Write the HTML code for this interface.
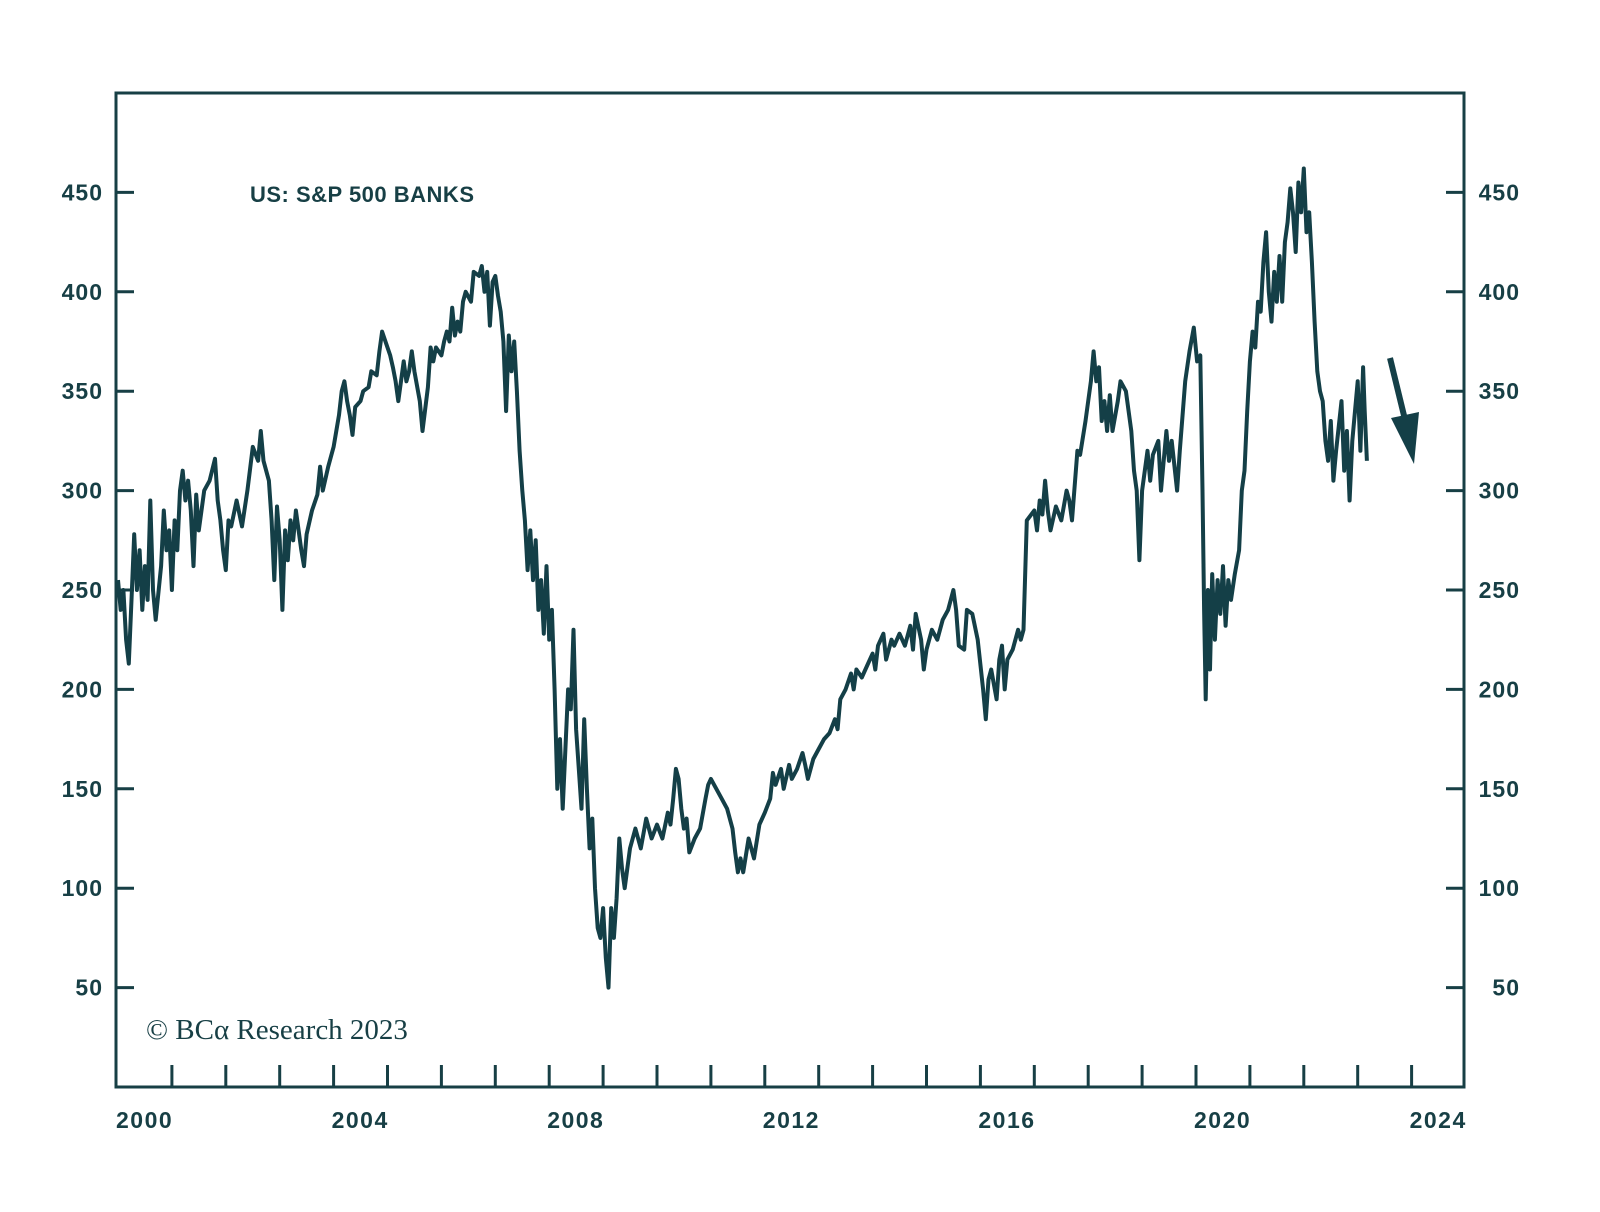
<!DOCTYPE html>
<html><head><meta charset="utf-8"><style>
html,body{margin:0;padding:0;background:#fff;}
svg{display:block;}
text{font-family:"Liberation Sans",sans-serif;fill:#173f45;}
</style></head><body>
<svg id="chart" width="1600" height="1212" viewBox="0 0 1600 1212">
<rect x="116" y="93" width="1348" height="994" fill="none" stroke="#173f45" stroke-width="3"/>
<g id="axes"></g>
<text x="250" y="202" font-size="22" font-weight="bold" letter-spacing="0.5">US: S&amp;P 500 BANKS</text>
<text x="146" y="1039" font-size="29" style="font-family:'Liberation Serif',serif">© BCα Research 2023</text>
<path id="series" fill="none" stroke="#143f47" stroke-width="4" stroke-linejoin="round"/>
<g>
<line x1="1390" y1="358" x2="1408" y2="432" stroke="#143f47" stroke-width="6"/>
<polygon points="1391,418 1419,412 1414,464" fill="#143f47"/>
</g>
</svg>
<script>
const dates=[2000.0,2000.05,2000.1,2000.15,2000.2,2000.25,2000.3,2000.35,2000.4,2000.45,2000.5,2000.55,2000.6,2000.65,2000.7,2000.8,2000.85,2000.9,2000.95,2001.0,2001.05,2001.1,2001.15,2001.2,2001.25,2001.3,2001.35,2001.4,2001.45,2001.5,2001.6,2001.7,2001.8,2001.85,2001.9,2001.95,2002.0,2002.05,2002.1,2002.2,2002.3,2002.4,2002.5,2002.6,2002.65,2002.7,2002.8,2002.85,2002.9,2002.95,2003.0,2003.05,2003.1,2003.15,2003.2,2003.25,2003.3,2003.4,2003.45,2003.5,2003.6,2003.7,2003.75,2003.8,2003.9,2004.0,2004.05,2004.1,2004.15,2004.2,2004.25,2004.3,2004.35,2004.4,2004.5,2004.55,2004.65,2004.7,2004.8,2004.85,2004.9,2005.0,2005.05,2005.1,2005.15,2005.2,2005.3,2005.35,2005.4,2005.45,2005.5,2005.6,2005.65,2005.75,2005.8,2005.85,2005.9,2006.0,2006.05,2006.1,2006.15,2006.2,2006.25,2006.3,2006.35,2006.4,2006.45,2006.55,2006.6,2006.7,2006.75,2006.8,2006.85,2006.9,2006.95,2007.0,2007.05,2007.1,2007.15,2007.2,2007.25,2007.3,2007.35,2007.4,2007.45,2007.5,2007.55,2007.6,2007.65,2007.7,2007.75,2007.8,2007.85,2007.9,2007.95,2008.0,2008.05,2008.1,2008.15,2008.2,2008.25,2008.3,2008.35,2008.4,2008.45,2008.5,2008.55,2008.6,2008.65,2008.7,2008.75,2008.8,2008.85,2008.9,2008.95,2009.0,2009.05,2009.1,2009.15,2009.2,2009.25,2009.3,2009.35,2009.4,2009.5,2009.6,2009.7,2009.8,2009.9,2010.0,2010.1,2010.2,2010.25,2010.3,2010.35,2010.4,2010.45,2010.5,2010.55,2010.6,2010.7,2010.8,2010.9,2010.95,2011.0,2011.1,2011.2,2011.3,2011.4,2011.45,2011.5,2011.55,2011.6,2011.7,2011.8,2011.9,2012.0,2012.1,2012.15,2012.2,2012.3,2012.35,2012.45,2012.5,2012.6,2012.7,2012.75,2012.8,2012.9,2013.0,2013.1,2013.2,2013.3,2013.35,2013.4,2013.5,2013.6,2013.65,2013.7,2013.8,2013.9,2014.0,2014.05,2014.1,2014.2,2014.25,2014.35,2014.4,2014.5,2014.6,2014.7,2014.75,2014.8,2014.9,2014.95,2015.0,2015.1,2015.2,2015.3,2015.4,2015.5,2015.55,2015.6,2015.7,2015.75,2015.85,2015.95,2016.05,2016.1,2016.15,2016.2,2016.3,2016.35,2016.4,2016.45,2016.5,2016.6,2016.7,2016.75,2016.8,2016.86,2017.0,2017.05,2017.1,2017.15,2017.2,2017.25,2017.3,2017.4,2017.5,2017.6,2017.65,2017.7,2017.8,2017.85,2017.95,2018.0,2018.05,2018.1,2018.15,2018.2,2018.25,2018.3,2018.35,2018.4,2018.45,2018.55,2018.6,2018.7,2018.8,2018.85,2018.9,2018.95,2019.0,2019.05,2019.1,2019.15,2019.2,2019.3,2019.35,2019.45,2019.5,2019.55,2019.65,2019.7,2019.8,2019.88,2019.96,2020.02,2020.08,2020.12,2020.15,2020.18,2020.22,2020.26,2020.3,2020.35,2020.4,2020.45,2020.5,2020.55,2020.6,2020.65,2020.72,2020.8,2020.85,2020.9,2020.95,2021.0,2021.05,2021.1,2021.15,2021.2,2021.25,2021.3,2021.35,2021.4,2021.45,2021.5,2021.55,2021.6,2021.65,2021.7,2021.75,2021.8,2021.85,2021.9,2021.95,2022.0,2022.05,2022.1,2022.15,2022.2,2022.25,2022.3,2022.35,2022.4,2022.45,2022.5,2022.55,2022.6,2022.7,2022.75,2022.8,2022.85,2022.9,2022.95,2023.0,2023.05,2023.1,2023.13,2023.17];
const values=[255,240,250,225,213,245,278,250,270,240,262,245,295,250,235,262,290,270,280,250,285,270,300,310,295,305,290,262,298,280,300,305,316,295,285,270,260,285,282,295,282,300,322,315,330,315,305,285,255,292,275,240,280,265,285,275,290,270,262,278,290,298,312,300,312,322,330,338,350,355,345,338,328,342,345,350,352,360,358,370,380,372,368,362,355,345,365,355,360,370,360,345,330,352,372,365,372,368,375,380,375,392,378,385,380,395,400,395,410,408,413,400,410,383,405,408,398,390,375,340,378,360,375,350,320,300,285,260,280,255,275,240,255,228,262,225,240,200,150,175,140,170,200,190,230,180,160,140,185,150,120,135,100,80,75,90,65,50,90,75,95,125,110,100,120,130,120,135,125,132,125,138,132,145,160,155,140,130,135,118,125,130,145,152,155,150,145,140,130,118,108,115,108,125,115,132,138,145,158,152,160,150,162,155,160,168,162,155,165,170,175,178,185,180,195,200,208,200,210,206,212,218,210,222,228,215,225,222,228,222,232,220,238,225,210,220,230,225,235,240,250,240,222,220,240,238,225,200,185,205,210,195,215,222,200,215,220,230,225,230,285,290,280,295,288,305,290,280,292,285,300,295,285,320,318,335,345,355,370,355,362,335,345,330,348,330,345,355,350,330,310,300,265,300,310,320,305,318,325,300,330,315,325,300,320,355,370,382,365,368,300,240,195,250,210,258,225,255,238,262,232,255,245,258,270,300,310,340,365,380,372,395,390,415,430,400,385,410,395,418,395,425,435,452,440,420,455,440,462,430,440,415,385,360,350,345,325,315,335,305,320,345,310,330,295,325,340,355,320,362,340,315];
const yTicks=[50,100,150,200,250,300,350,400,450];
const xYears=[2000,2001,2002,2003,2004,2005,2006,2007,2008,2009,2010,2011,2012,2013,2014,2015,2016,2017,2018,2019,2020,2021,2022,2023,2024];
const xLabels=[2000,2004,2008,2012,2016,2020,2024];
const X=y=>118+(y-2000)*53.9;
const Y=v=>1087-v*1.988;
const NS='http://www.w3.org/2000/svg';
const ax=document.getElementById('axes');
function mk(tag,attrs){const e=document.createElementNS(NS,tag);for(const k in attrs)e.setAttribute(k,attrs[k]);return e;}
yTicks.forEach(v=>{
 const l=mk('line',{x1:116,x2:134,y1:Y(v),y2:Y(v),stroke:'#173f45','stroke-width':3});
 
 
 ax.appendChild(l);
 const r=mk('line',{x1:1446,x2:1464,y1:Y(v),y2:Y(v),stroke:'#173f45','stroke-width':3});
 
 
 ax.appendChild(r);
 const t=mk('text',{x:103,y:Y(v)+8,'text-anchor':'end','font-size':23,'font-weight':'bold','letter-spacing':1});
 t.textContent=v;
 
 
 ax.appendChild(t);
 const t2=mk('text',{x:1520,y:Y(v)+8,'text-anchor':'end','font-size':23,'font-weight':'bold','letter-spacing':1});
 t2.textContent=v;
 
 
 ax.appendChild(t2);
});
xYears.forEach(yr=>{
 if(yr===2000)return;
 const l=mk('line',{x1:X(yr),x2:X(yr),y1:1087,y2:1065,stroke:'#173f45','stroke-width':3});
 
 
 ax.appendChild(l);
});
xLabels.forEach(yr=>{
 const t=mk('text',{x:X(yr)-2,y:1128,'font-size':23,'font-weight':'bold','letter-spacing':1.5});
 t.textContent=yr;
 
 
 ax.appendChild(t);
});
document.getElementById('series').setAttribute('d',dates.map((d,i)=>(i?'L':'M')+X(d).toFixed(1)+','+Y(values[i]).toFixed(1)).join(''));
</script>
</body></html>
